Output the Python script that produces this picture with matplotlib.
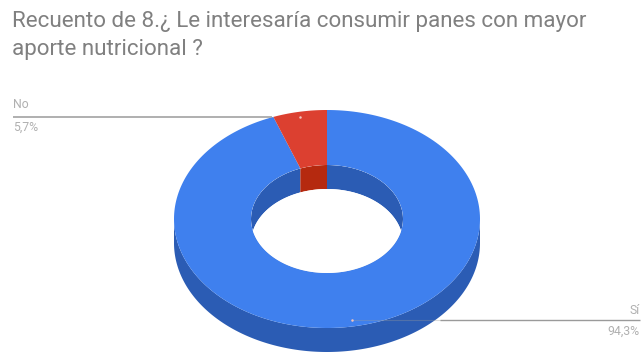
import numpy as np
import matplotlib
matplotlib.use("Agg")
import matplotlib.pyplot as plt
from matplotlib.patches import Polygon

categories = ["No", "Sí"]
shares = [5.7, 94.3]
title_lines = ["Recuento de 8.¿ Le interesaría consumir panes con mayor",
               "aporte nutricional ?"]

BLUE, BLUE_DARK = "#3f80ee", "#2b5cb4"
RED, RED_DARK = "#dc4030", "#b5290f"
GREY = "#b0b0b0"

plt.rcParams["font.family"] = ["Roboto", "DejaVu Sans"]

# axes in pixel units, y pointing down
fig = plt.figure(figsize=(6.42, 3.54), dpi=100)
ax = fig.add_axes([0, 0, 1, 1])
ax.set_xlim(0, 642)
ax.set_ylim(354, 0)
ax.axis("off")

cx, cy = 327, 219
rx, ry = 153, 109
hole_rx, hole_ry = 76, 54
depth = 24


def ring_point(a, x_r, y_r, drop=0):
    # a is measured clockwise from 12 o'clock, in degrees
    t = np.radians(a)
    return cx + x_r * np.sin(t), cy - y_r * np.cos(t) + drop


def sector(a0, a1, x_r0, y_r0, x_r1, y_r1, drop0=0, drop1=0):
    a = np.linspace(a0, a1, 240)
    x0, y0 = ring_point(a, x_r0, y_r0, drop0)
    x1, y1 = ring_point(a[::-1], x_r1, y_r1, drop1)
    return np.column_stack([np.r_[x0, x1], np.r_[y0, y1]])


no_deg = shares[0] / sum(shares) * 360
no_start, no_end = -no_deg, 0
si_start, si_end = 0, 360 - no_deg

# outer side wall, front half only
ax.add_patch(Polygon(sector(90, 270, rx, ry, rx, ry, 0, depth),
                     color=BLUE_DARK, lw=0, zorder=1))

# top face of the ring
ax.add_patch(Polygon(sector(si_start, si_end, rx, ry, hole_rx, hole_ry),
                     color=BLUE, lw=0, zorder=2))
ax.add_patch(Polygon(sector(no_start, no_end, rx, ry, hole_rx, hole_ry),
                     color=RED, lw=0, zorder=2))

# inner wall seen through the hole, clipped to the hole outline
hole = Polygon(sector(0, 360, hole_rx, hole_ry, 0, 0), closed=True,
               transform=ax.transData)
wall_si = ax.add_patch(Polygon(sector(si_start, si_end, hole_rx, hole_ry, hole_rx, hole_ry, 0, depth),
                               color=BLUE_DARK, lw=0, zorder=3))
wall_no = ax.add_patch(Polygon(sector(no_start, no_end, hole_rx, hole_ry, hole_rx, hole_ry, 0, depth),
                               color=RED_DARK, lw=0, zorder=3))
wall_si.set_clip_path(hole)
wall_no.set_clip_path(hole)

# see-through part of the hole
opening = ax.add_patch(Polygon(sector(0, 360, hole_rx, hole_ry, 0, 0, depth, depth),
                               color="white", lw=0, zorder=4))
opening.set_clip_path(hole)

# leader lines and labels
ax.plot([13, 272], [116.5, 116.5], color="#9a9a9a", lw=1.1, zorder=5, solid_capstyle="butt")
ax.plot([440, 640], [320, 320], color="#9a9a9a", lw=1.0, zorder=5, solid_capstyle="butt")
ax.plot([352, 440], [320, 320], color="#9a9a9a", lw=0.8, alpha=0.35, zorder=5)
ax.plot([300, 352], [117, 320], ls="", marker="o", ms=1.8, mec="none", color="#f2c4bc", zorder=6)

ax.text(13, 105, categories[0], color=GREY, fontsize=8.8, ha="left", va="center")
ax.text(13, 127, f"{shares[0]:.1f}%".replace(".", ","), color=GREY, fontsize=8.8, ha="left", va="center")
ax.text(640, 310, categories[1], color=GREY, fontsize=8.8, ha="right", va="center")
ax.text(640, 331, f"{shares[1]:.1f}%".replace(".", ","), color=GREY, fontsize=8.8, ha="right", va="center")

ax.text(12, 22, title_lines[0], color="#808080", fontsize=16.1, ha="left", va="center")
ax.text(12, 50, title_lines[1], color="#808080", fontsize=16.1, ha="left", va="center")

fig.savefig("out.png", dpi=100)
